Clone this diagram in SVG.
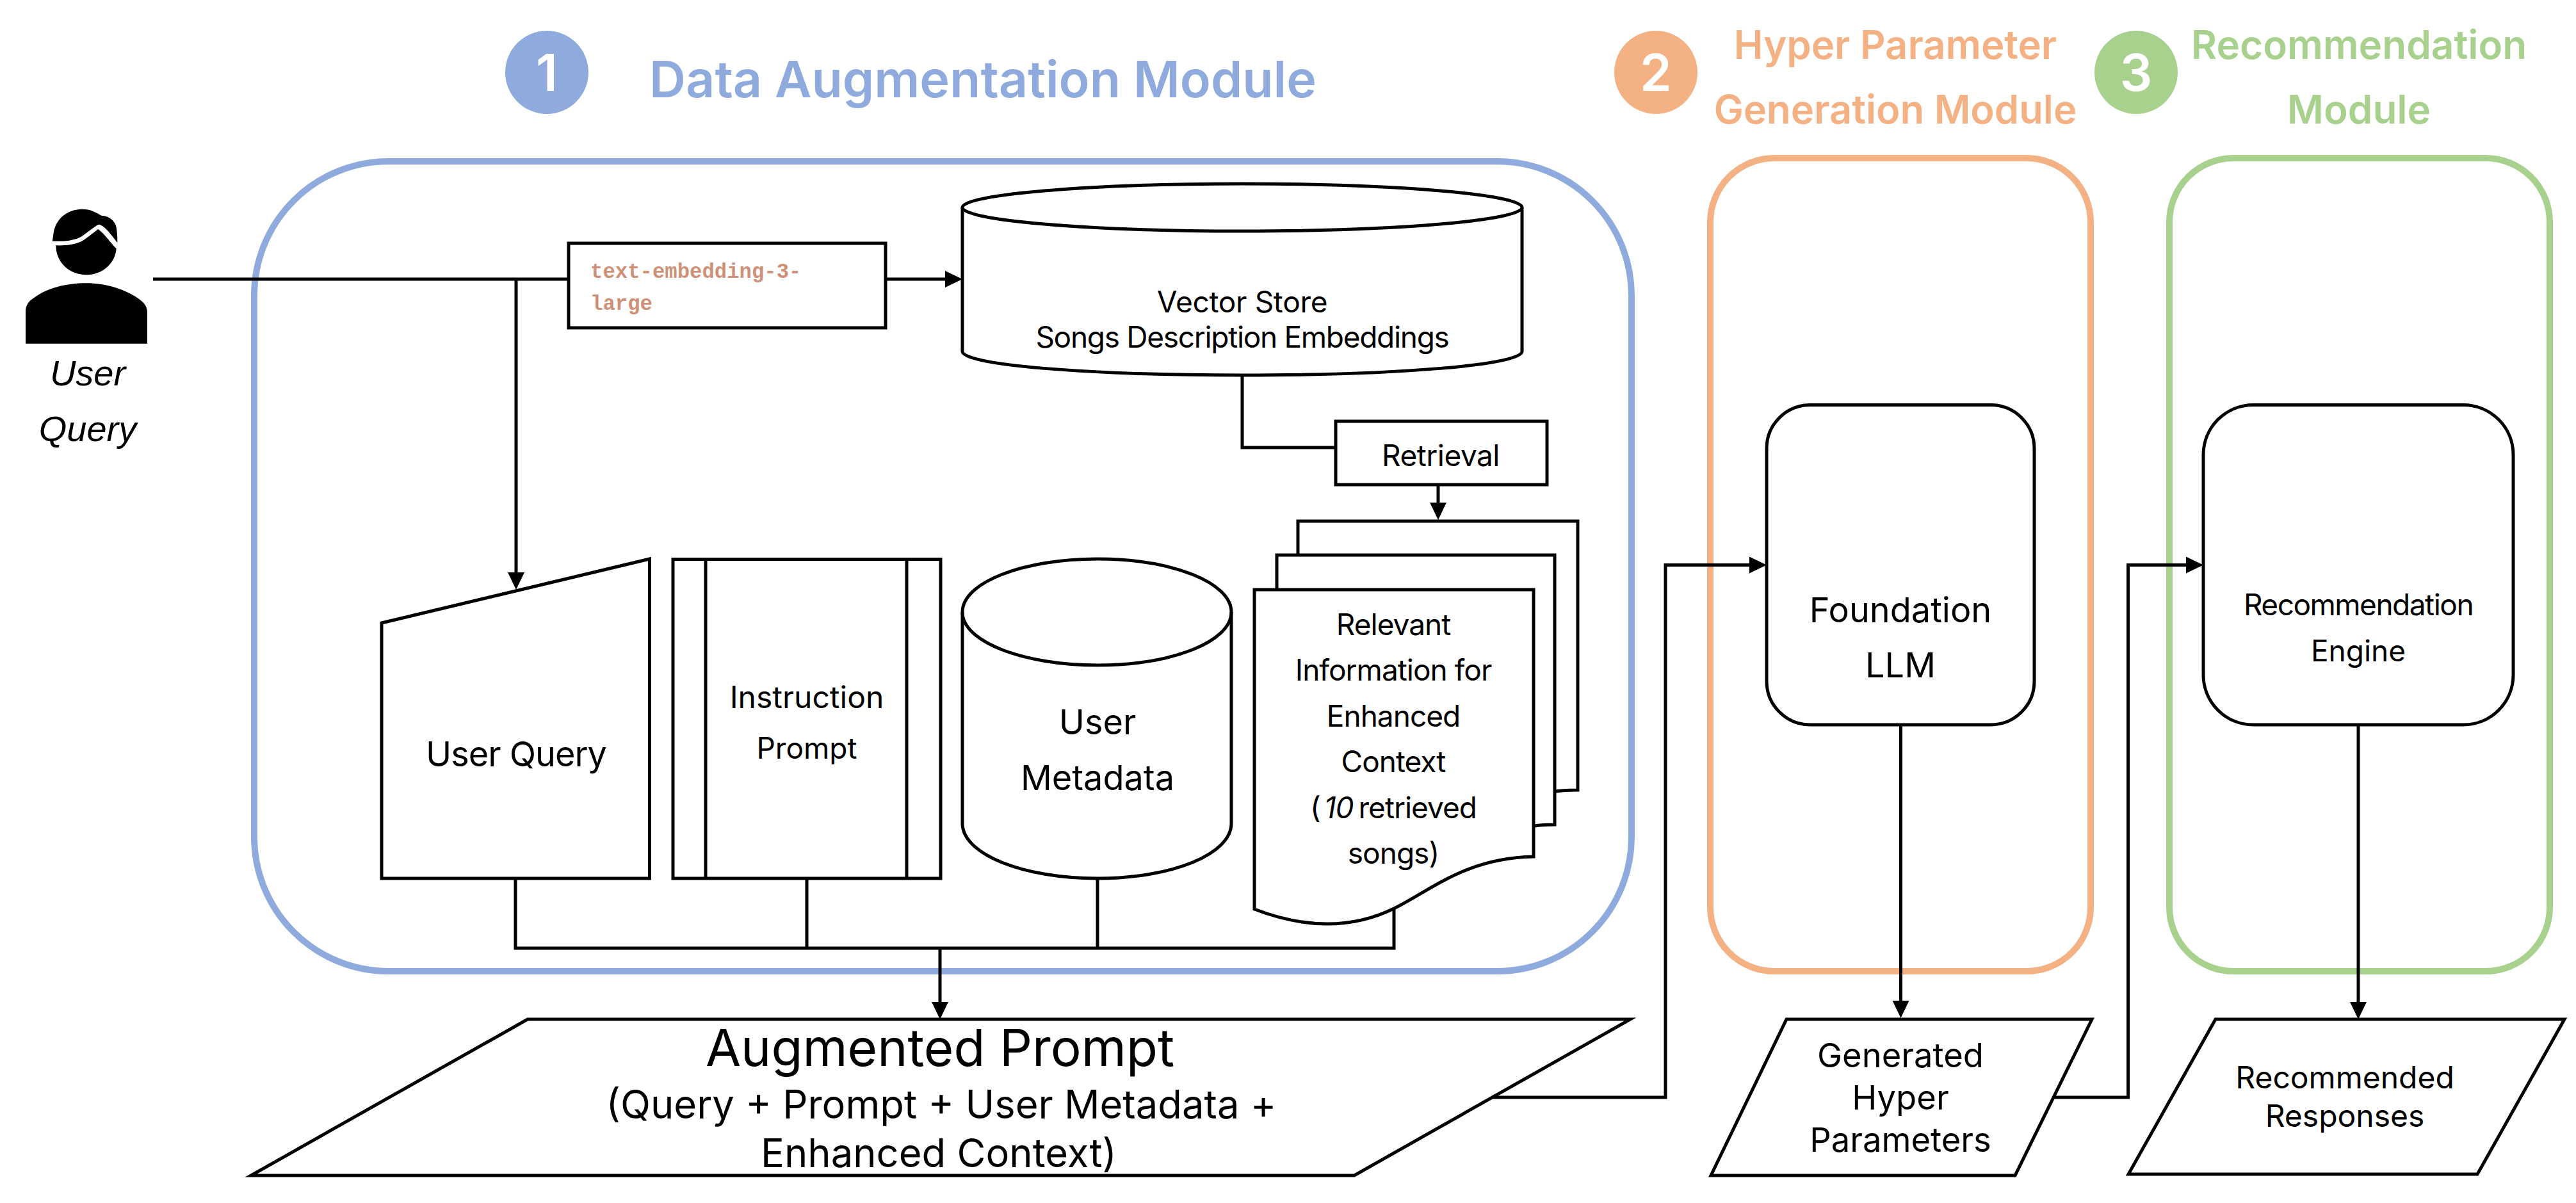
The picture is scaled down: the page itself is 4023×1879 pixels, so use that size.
<svg xmlns="http://www.w3.org/2000/svg" width="4023" height="1879" viewBox="0 0 4023 1879">
<style>
text{font-family:"Inter","Liberation Sans",sans-serif;fill:#000;text-anchor:middle}
.shape{fill:#fff;stroke:#000;stroke-width:5;stroke-linejoin:miter}
.plain{fill:none;stroke:#000;stroke-width:5}
.conn{fill:none;stroke:#000;stroke-width:5}
.arrow{marker-end:url(#head)}
.box{fill:none;stroke-width:10}
.blue{stroke:#8FAADC}.orange{stroke:#F4B183}.green{stroke:#A9D18E}
.cblue{fill:#8FAADC}.corange{fill:#F4B183}.cgreen{fill:#A9D18E}
.num{fill:#fff;font-size:80px;font-weight:600}
.title{font-weight:600}
.t46{font-size:46px;letter-spacing:-1px}.t54{font-size:54px}
.code{font-family:"Liberation Mono",monospace;font-weight:700;font-size:32.3px;fill:#CE9178;text-anchor:start}
.ital{font-family:"Liberation Sans",Arial,sans-serif;font-style:italic;font-size:56px}
</style>
<defs>
<marker id="head" markerUnits="userSpaceOnUse" markerWidth="30" markerHeight="28" refX="17" refY="14" orient="auto"><path d="M0,1 L27,14 L0,27 Z" fill="#000"/></marker>
</defs>
<rect width="4023" height="1879" fill="#fff"/>
<g id="modules">
<rect id="module-1" class="box blue" x="397" y="252" width="2151" height="1265" rx="210" ry="210"/>
<rect id="module-2" class="box orange" x="2671" y="247" width="594" height="1270" rx="100" ry="100"/>
<rect id="module-3" class="box green" x="3388" y="247" width="594" height="1270" rx="100" ry="100"/>
</g>
<g id="titles">
<g id="title-1"><circle class="cblue" cx="854" cy="113" r="65"/><text class="num" x="854" y="142">1</text><text class="title cblue" font-size="79" x="1535" y="152">Data Augmentation Module</text></g>
<g id="title-2"><circle class="corange" cx="2586" cy="113" r="65"/><text class="num" x="2586" y="142">2</text><text class="title corange" font-size="61.500" x="2960" y="92">Hyper Parameter</text><text class="title corange" font-size="61.500" x="2960" y="193">Generation Module</text></g>
<g id="title-3"><circle class="cgreen" cx="3336" cy="113" r="65"/><text class="num" x="3336" y="142">3</text><text class="title cgreen" font-size="62" x="3684" y="92">Recommendation</text><text class="title cgreen" font-size="62" x="3684" y="193">Module</text></g>
</g>
<g id="connectors">
<path class="conn" d="M239,436 H888"/>
<path class="conn arrow" d="M806,436 V911"/>
<path class="conn arrow" d="M1383,436 H1493"/>
<path class="conn" d="M1940,586 V699 H2086"/>
<path class="conn arrow" d="M2246,757 V802"/>
<path class="conn" d="M805,1372 V1481 H2177 V1419"/>
<path class="conn" d="M1260,1372 V1481"/>
<path class="conn" d="M1714,1372 V1481"/>
<path class="conn arrow" d="M1468,1481 V1582"/>
<path class="conn arrow" d="M2329,1714 H2601 V882.500 H2749"/>
<path class="conn arrow" d="M2968.500,1132 V1580"/>
<path class="conn arrow" d="M3207,1714 H3323.500 V882.500 H3431"/>
<path class="conn arrow" d="M3683,1132 V1582"/>
</g>
<g id="user">
<g transform="translate(0,280) scale(.3333)">
<path d="M245,290 C250,270 250,235 262,215 C285,165 335,140 385,140 C425,140 450,155 475,170 C510,170 540,195 545,225 C550,255 550,275 550,297 C525,265 490,215 462,212 C435,225 405,255 375,272 C335,290 290,292 245,290 Z"/>
<path d="M262,310 C305,311 345,308 380,292 C405,278 435,252 460,234 C490,255 515,295 545,325 C540,395 480,448 405,448 C325,448 262,390 262,310 Z"/>
<path d="M120,770 V620 C120,590 135,570 160,555 C220,510 310,487 405,487 C495,487 585,515 650,560 C675,578 690,595 690,625 V770 Z"/>
</g>
<text class="ital" x="137" y="602">User</text>
<text class="ital" x="137" y="689">Query</text>
</g>
<g id="embedding">
<rect class="shape" x="888" y="380" width="495" height="132"/>
<text class="code" x="922" y="434">text-embedding-3-</text>
<text class="code" x="922" y="484">large</text>
</g>
<g id="vector-store">
<path class="shape" d="M1503,324 C1503,304 1698,287 1940,287 S2377,304 2377,324 V549 C2377,570 2182,586 1940,586 S1503,570 1503,549 Z"/>
<path class="plain" d="M1503,324 C1503,344 1698,361 1940,361 S2377,344 2377,324"/>
<text font-size="46" letter-spacing="-.3" x="1940" y="488">Vector Store</text>
<text class="t46" style="letter-spacing:-1.300px" x="1940" y="543">Songs Description Embeddings</text>
</g>
<g id="retrieval">
<rect class="shape" x="2086" y="658" width="330" height="99"/>
<text font-size="46" letter-spacing="-.5" x="2250" y="728">Retrieval</text>
</g>
<g id="user-query">
<path class="shape" d="M596,973 L1014.500,873 V1372 H596 Z"/>
<text class="t54" style="letter-spacing:-1px" x="806" y="1197">User Query</text>
</g>
<g id="instruction-prompt">
<rect class="shape" x="1051" y="873.500" width="418" height="498.500"/>
<path class="plain" d="M1102,873.500 V1372 M1416,873.500 V1372"/>
<text font-size="48" x="1260" y="1106">Instruction</text>
<text font-size="46" x="1260" y="1185">Prompt</text>
</g>
<g id="user-metadata">
<path class="shape" d="M1503,956 C1503,910 1597,873 1714,873 S1923,910 1923,956 V1286 C1923,1334 1831,1372 1714,1372 S1503,1334 1503,1286 Z"/>
<path class="plain" d="M1503,956 C1503,1002 1597,1039 1714,1039 S1923,1002 1923,956"/>
<text class="t54" x="1714" y="1147">User</text>
<text class="t54" x="1714" y="1234">Metadata</text>
</g>
<g id="documents">
<path class="shape" d="M2027,814 H2464 V1234 C2450,1234 2440,1234 2400,1240 L2027,1300 Z"/>
<path class="shape" d="M1994,867 H2428 V1288 C2415,1288 2405,1288 2370,1294 L1994,1350 Z"/>
<path class="shape" d="M1959,921 H2395 V1338 C2290,1340 2235,1390 2177,1419 C2120,1447 2050,1455 1959,1420 Z"/>
<text class="t46" x="2176" y="992">Relevant</text>
<text class="t46" x="2176" y="1063">Information for</text>
<text class="t46" x="2176" y="1135">Enhanced</text>
<text class="t46" x="2176" y="1206">Context</text>
<text class="t46" x="2176" y="1278">(<tspan font-style="italic" dx="6">10</tspan><tspan dx="8">retrieved</tspan></text>
<text class="t46" x="2176" y="1349">songs)</text>
</g>
<g id="foundation-llm">
<rect class="shape" x="2759" y="632.500" width="418" height="499.500" rx="68" ry="68"/>
<text class="t54" x="2968" y="972">Foundation</text>
<text class="t54" x="2968" y="1058">LLM</text>
</g>
<g id="recommendation-engine">
<rect class="shape" x="3441" y="632.500" width="484" height="499.500" rx="78" ry="78"/>
<text class="t46" style="letter-spacing:-1.500px" x="3683" y="961">Recommendation</text>
<text font-size="46" x="3683" y="1033">Engine</text>
</g>
<g id="augmented-prompt">
<path class="shape" d="M824,1592 H2546 L2115,1836 H392 Z"/>
<text font-size="80" x="1468" y="1665">Augmented Prompt</text>
<text font-size="61.500" x="1470" y="1747">(Query + Prompt + User Metadata +</text>
<text font-size="61.500" x="1466" y="1823">Enhanced Context)</text>
</g>
<g id="hyper-parameters">
<path class="shape" d="M2790,1592 H3267 L3147,1836 H2672 Z"/>
<text font-size="52.500" x="2968" y="1667">Generated</text>
<text font-size="52.500" x="2968" y="1733">Hyper</text>
<text font-size="52.500" x="2968" y="1799">Parameters</text>
</g>
<g id="recommended-responses">
<path class="shape" d="M3460,1592 H4005 L3869,1834 H3324 Z"/>
<text font-size="48" x="3662" y="1700">Recommended</text>
<text font-size="48" x="3662" y="1760">Responses</text>
</g>
</svg>
